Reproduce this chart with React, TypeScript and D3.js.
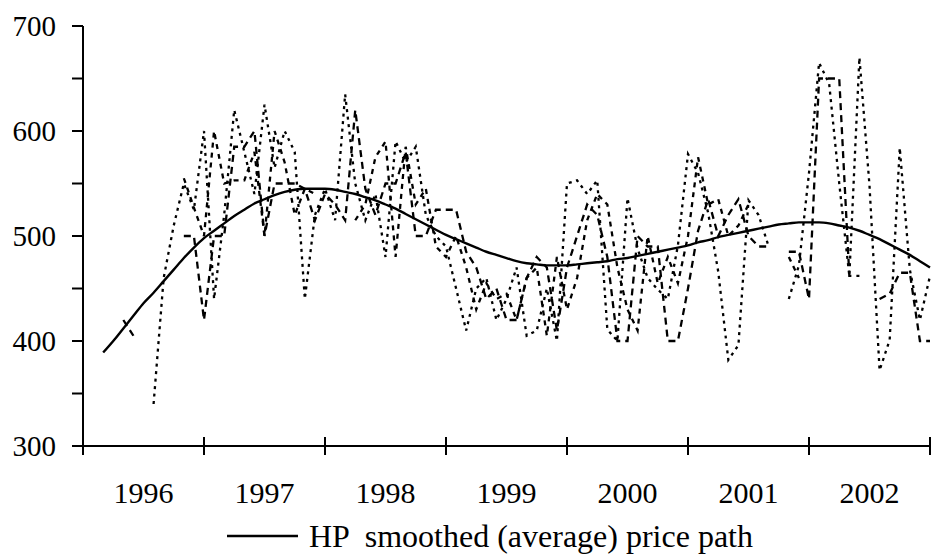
import React from 'react';
import * as d3 from 'd3';

// monthly observations, index 0 = Jan 1996 ... 84 = Jan 2003
const years = ['1996', '1997', '1998', '1999', '2000', '2001', '2002'];

const hpStart = 2;
const hpPath = [
  389, 400, 412, 424, 436, 446, 457, 468, 479, 489, 498, 505, 512, 519, 525, 531, 535, 539, 542, 544,
  545, 545, 545, 544, 542, 540, 537, 534, 530, 526, 521, 516, 511, 506, 501, 497, 493, 489, 485, 482,
  479, 476, 474, 473, 472, 472, 472, 473, 474, 475, 476, 478, 479, 481, 483, 485, 487, 489, 491, 494,
  496, 499, 501, 503, 505, 507, 509, 511, 512, 513, 513, 513, 512, 510, 508, 505, 501, 497, 492, 487,
  482, 476, 470,
];

const _ = null;
const priceA = [
  _, _, _, _, _, _, _, 340, 460, 510, 550, 525, 600, 440, 520, 620, 580, 540, 625, 565,
  600, 580, 440, 520, 545, 515, 635, 550, 515, 540, 480, 590, 570, 585, 520, 500, 490, 450, 410, 450,
  460, 420, 440, 470, 405, 410, 450, 400, 550, 553, 540, 553, 411, 400, 536, 488, 460, 449, 440, 491,
  578, 560, 522, 466, 382, 396, 534, 520, 490, _, 440, 472, 560, 665, 645, 550, 462, 670, 548, 372,
  401, 584, 468, 420, 462,
];
const priceB = [
  _, _, _, _, 420, 405, _, _, _, _, 500, 500, 420, 500, 500, 585, 585, 600, 500, 550,
  550, 550, 545, 515, 540, 530, 515, 620, 545, 520, 550, 550, 580, 500, 500, 525, 525, 525, 485, 470,
  440, 450, 420, 420, 460, 480, 470, 410, 470, 500, 530, 520, 480, 400, 400, 500, 490, 490, 400, 400,
  450, 505, 535, 500, 520, 535, 500, 490, 490, _, 485, 485, 440, 650, 650, 650, 462, 462, _, 440,
  445, 465, 465, 400, 400,
];
const priceC = [
  _, _, _, _, _, _, _, _, _, _, 555, 527, 500, 600, 550, 553, 553, 580, 500, 600,
  570, 520, 545, 540, _, _, _, 515, 530, 575, 590, 480, 585, 530, 545, 490, 480, 500, 470, 430,
  455, 440, 445, 420, 460, 470, 405, 480, 430, 460, 515, 540, 530, 470, 430, 410, 500, 455, 480, 455,
  500, 575, 530, 535, 500, 510, 530, _, _, _, 480, 460, _, _, _, _, _, _, _, _,
  _, _, _, _, _,
];

const dashed = [
  { values: priceA, dash: '3,4.5' },
  { values: priceB, dash: '7,5' },
  { values: priceC, dash: '5,5' },
];

export default function App() {
  const width = 932;
  const height = 555;
  const x = d3.scaleLinear().domain([0, 84]).range([83, 930]);
  const y = d3.scaleLinear().domain([300, 700]).range([446, 26]);
  const font = "'Liberation Serif', 'Times New Roman', serif";

  const line = d3
    .line<number | null>()
    .defined((d) => d != null)
    .x((_d, i) => x(i))
    .y((d) => y(d as number));

  const hpLine = d3
    .line<number>()
    .x((_d, i) => x(i + hpStart))
    .y((d) => y(d))
    .curve(d3.curveMonotoneX);

  const yTicks = d3.range(300, 701, 50);

  return (
    <svg
      width={width}
      height={height}
      style={{ position: 'absolute', left: 0, top: 0, background: '#fff', fontFamily: font }}
    >
      {dashed.map((s, k) => (
        <path key={k} d={line(s.values) || ''} fill="none" stroke="#000" strokeWidth={2.3} strokeDasharray={s.dash} />
      ))}
      <path d={hpLine(hpPath) || ''} fill="none" stroke="#000" strokeWidth={2.4} />

      {/* y axis */}
      <line x1={83} x2={83} y1={y(700)} y2={y(300)} stroke="#000" strokeWidth={2} />
      {yTicks.map((t) => (
        <line key={t} x1={72} x2={83} y1={y(t)} y2={y(t)} stroke="#000" strokeWidth={2} />
      ))}
      {yTicks.filter((t) => t % 100 === 0).map((t) => (
        <text key={t} x={56} y={y(t)} dy="0.35em" textAnchor="end" fontSize={29}>
          {t}
        </text>
      ))}

      {/* x axis */}
      <line x1={72} x2={930} y1={y(300)} y2={y(300)} stroke="#000" strokeWidth={2} />
      {d3.range(0, 85, 12).map((m) => (
        <line key={m} x1={x(m)} x2={x(m)} y1={y(300) - 9} y2={y(300) + 9} stroke="#000" strokeWidth={2} />
      ))}
      {years.map((yr, i) => (
        <text key={yr} x={x(i * 12 + 6)} y={503} textAnchor="middle" fontSize={30}>
          {yr}
        </text>
      ))}

      {/* legend */}
      <line x1={227} x2={298} y1={536} y2={536} stroke="#000" strokeWidth={2.4} />
      <text x={309} y={547} fontSize={32} style={{ whiteSpace: 'pre' }}>
        {'HP  smoothed (average) price path'}
      </text>
    </svg>
  );
}
